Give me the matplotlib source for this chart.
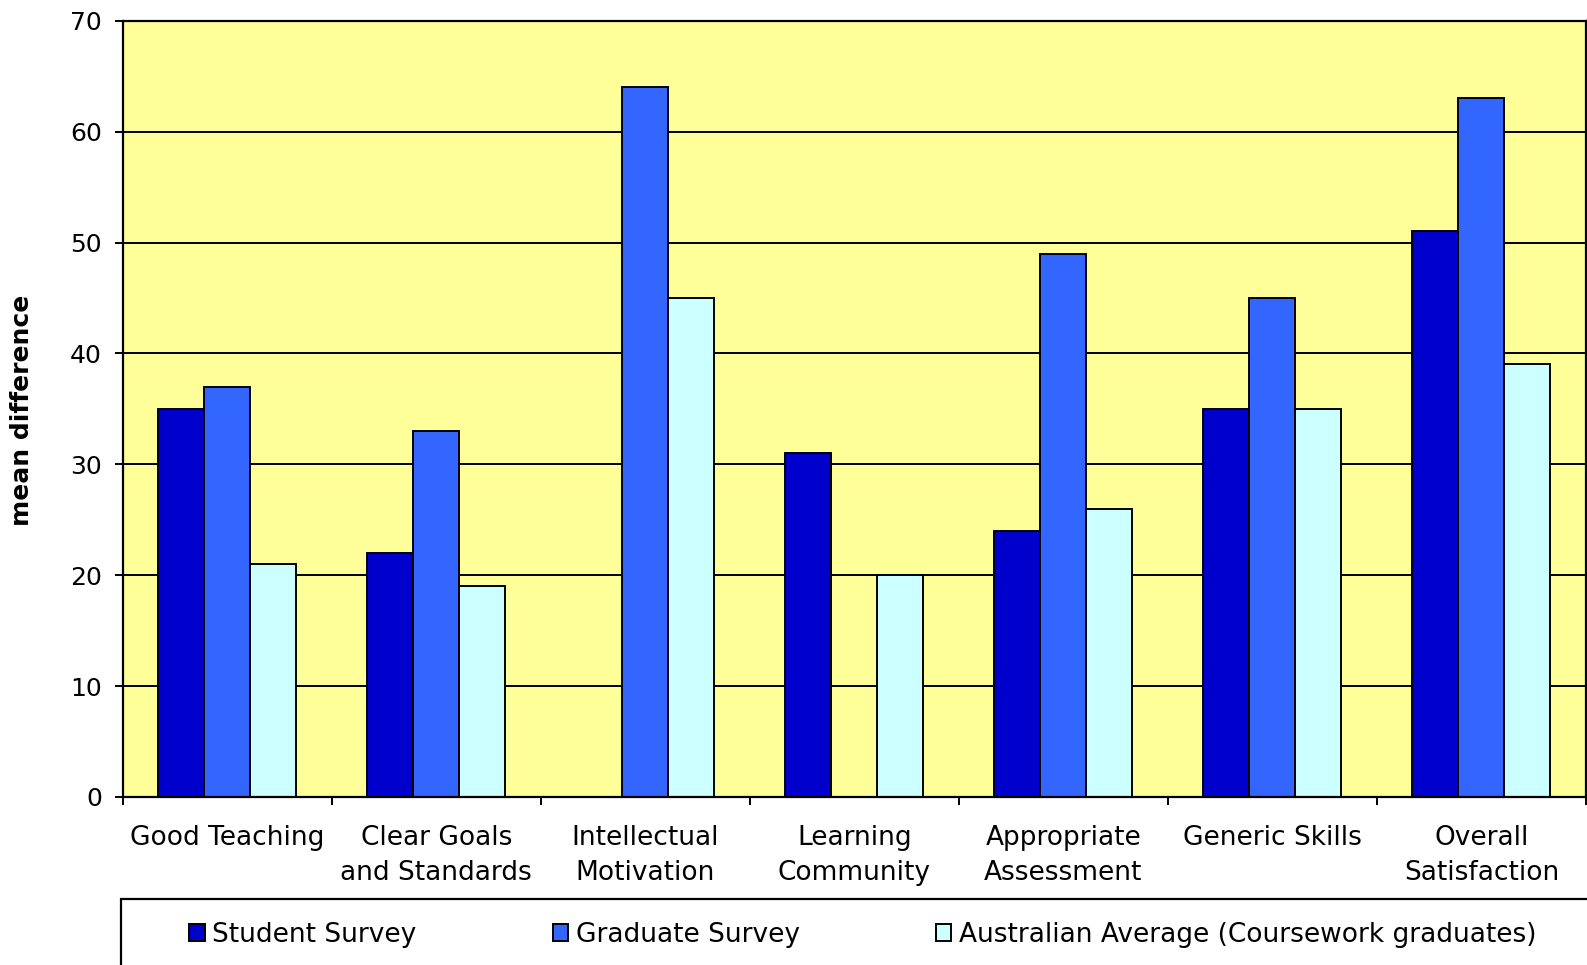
import numpy as np
import matplotlib
matplotlib.use("Agg")
import matplotlib.pyplot as plt
import matplotlib.patches as patches

# data
categories = ["Good Teaching", "Clear Goals\nand Standards", "Intellectual\nMotivation",
              "Learning\nCommunity", "Appropriate\nAssessment", "Generic Skills",
              "Overall\nSatisfaction"]
student_survey = [35, 22, np.nan, 31, 24, 35, 51]
graduate_survey = [37, 33, 64, np.nan, 49, 45, 63]
australian_avg = [21, 19, 45, 20, 26, 35, 39]
series_labels = ["Student Survey", "Graduate Survey",
                 "Australian Average (Coursework graduates)"]
colors = ["#0000CC", "#3366FF", "#CCFFFF"]

plt.rcParams['font.family'] = ['DejaVu Sans']

W, H = 1587, 965
fig = plt.figure(figsize=(W / 100, H / 100), dpi=100)
ax = fig.add_axes([122.7 / W, 1 - 797 / H, (1586 - 122.7) / W, (797 - 20.7) / H])
ax.set_facecolor("#FFFF99")

x = np.arange(len(categories))
bw = 0.22
handles = []
for i, (vals, col, lab) in enumerate(zip([student_survey, graduate_survey, australian_avg],
                                         colors, series_labels)):
    b = ax.bar(x + (i - 1) * bw, vals, bw, color=col, edgecolor="black",
               linewidth=1.4, label=lab, zorder=3)
    handles.append(b)

ax.set_xlim(-0.5, len(categories) - 0.5)
ax.set_ylim(0, 70)
ax.set_yticks(np.arange(0, 71, 10))
ax.grid(axis="y", color="black", linewidth=1.4, zorder=1)
for s in ax.spines.values():
    s.set_linewidth(1.6)
    s.set_zorder(4)

ax.set_xticks(x)
ax.set_xticklabels(categories, fontsize=19, linespacing=1.45)
ax.set_xticks(np.arange(-0.5, len(categories), 1), minor=True)
ax.tick_params(axis="x", which="major", length=0, pad=20)
ax.tick_params(axis="x", which="minor", length=6, width=1.4, direction="out")
ax.tick_params(axis="y", length=6, width=1.4, pad=9, labelsize=18)

fig.text(22 / W, 1 - 410 / H, "mean difference", rotation=90, fontsize=18,
         fontweight="bold", ha="center", va="center")

# legend box (runs off the right and bottom edges)
fig.patches.append(patches.Rectangle((120.7 / W, -0.1), 1.2, (1 - 899 / H) + 0.1,
                                     transform=fig.transFigure, facecolor="white",
                                     edgecolor="black", linewidth=1.6))
fig.legend(handles=handles, loc="center left", bbox_to_anchor=(176 / W, 1 - 935 / H),
           ncol=3, frameon=False, fontsize=19, handlelength=0.58, handleheight=0.58,
           handletextpad=0.3, columnspacing=5.15, borderpad=0)

fig.savefig("out.png", dpi=100)
